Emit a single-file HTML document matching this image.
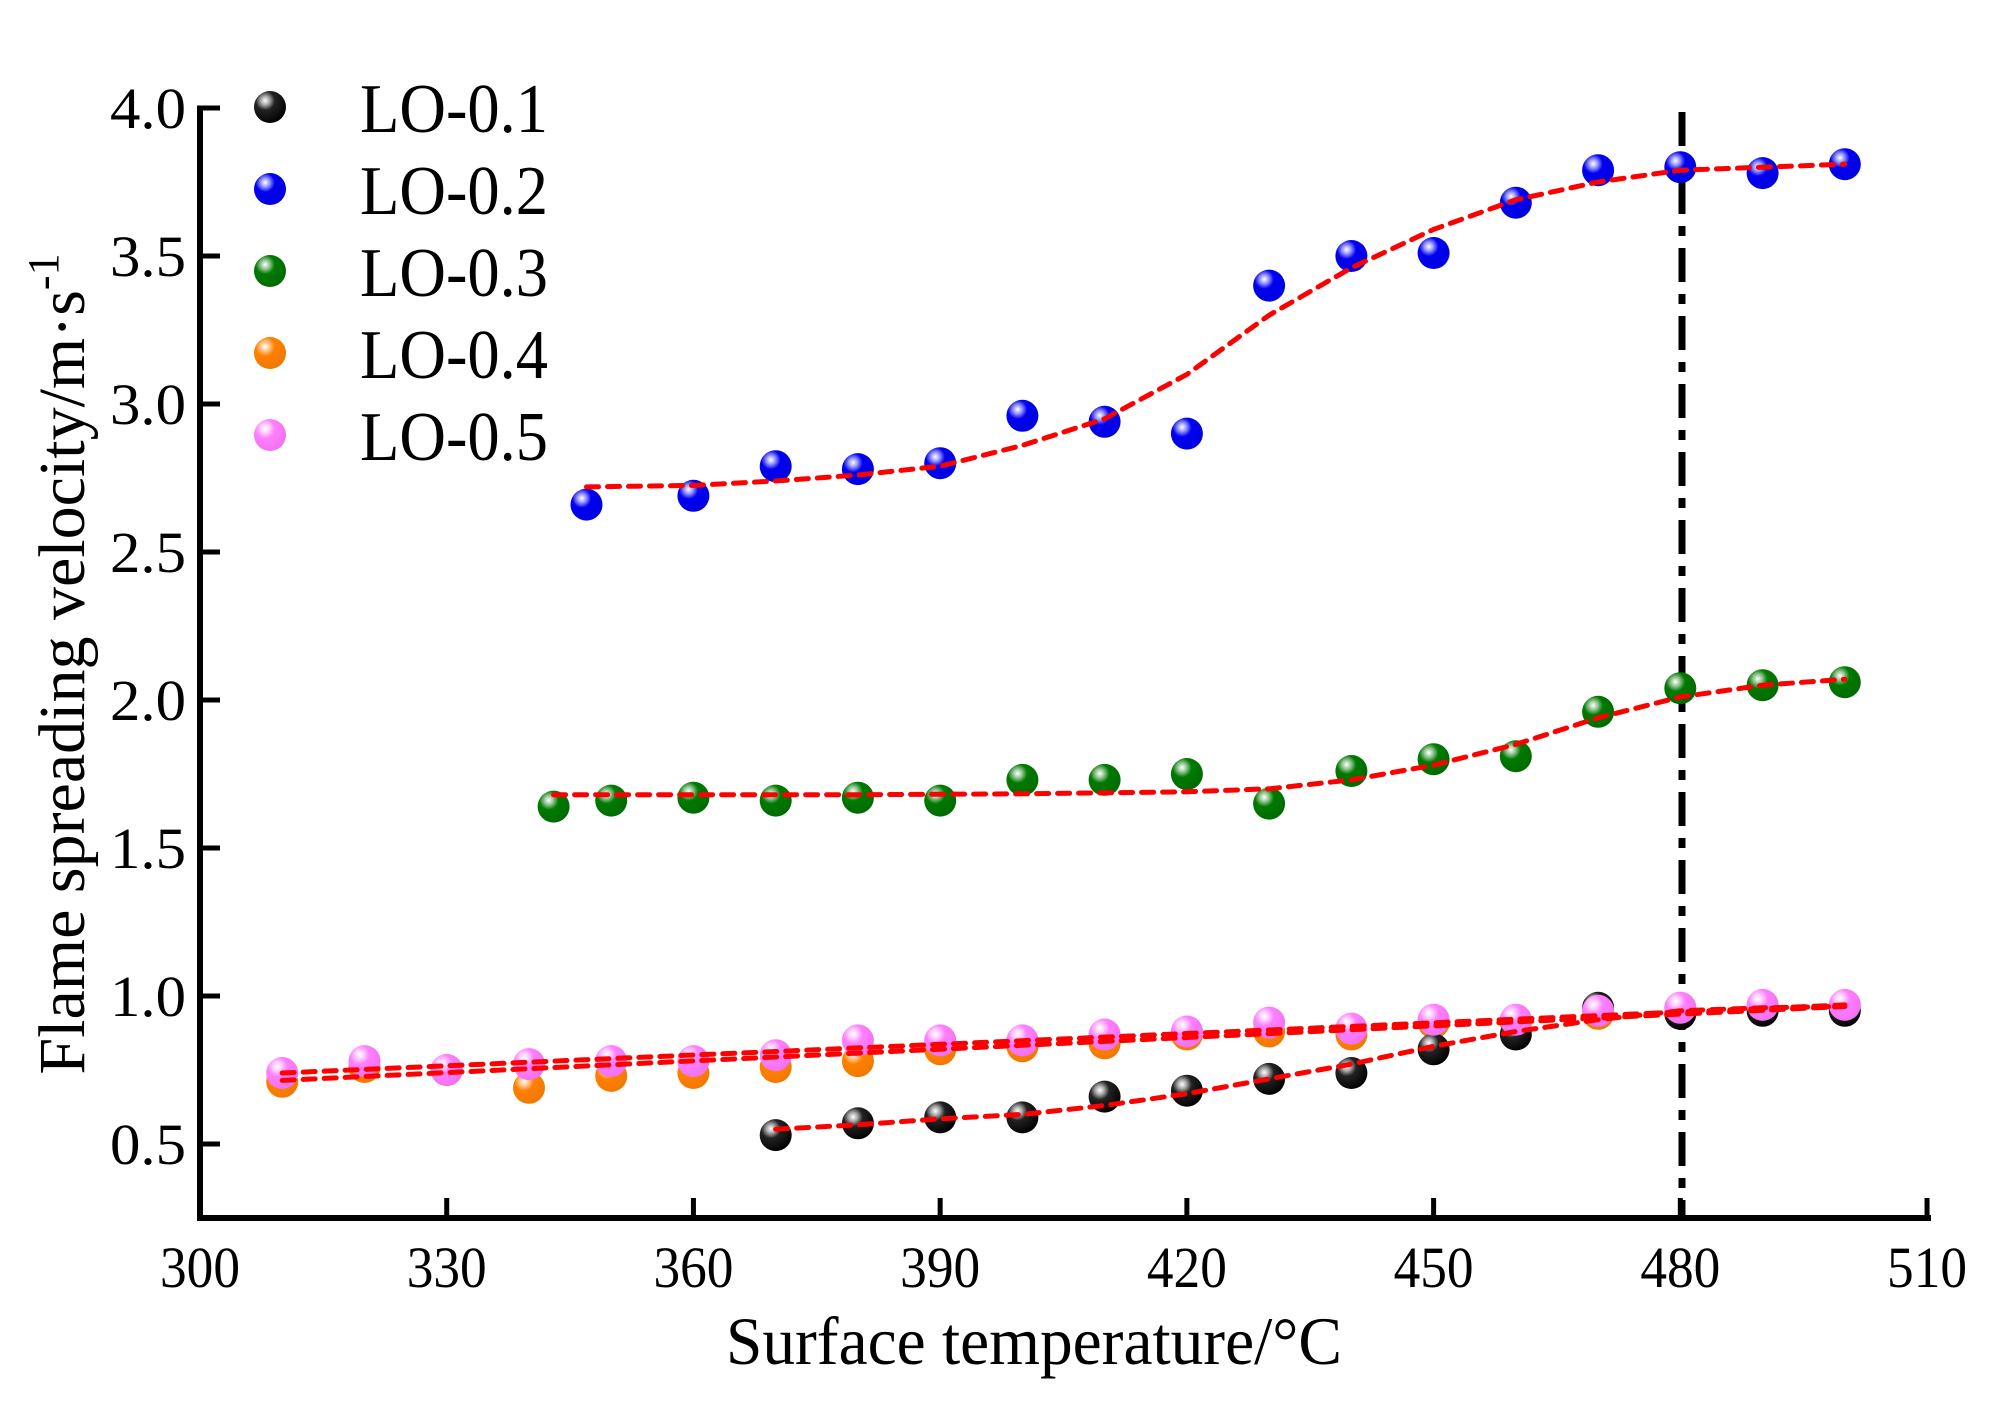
<!DOCTYPE html>
<html><head><meta charset="utf-8"><style>
html,body{margin:0;padding:0;background:#fff;}
svg{display:block;}
text{font-family:"Liberation Serif","DejaVu Serif",serif;fill:#000;}
</style></head><body>
<svg id="s" width="1998" height="1419" viewBox="0 0 1998 1419" xmlns="http://www.w3.org/2000/svg">
<defs>
<radialGradient id="gk" cx="0.35" cy="0.3" r="0.75"><stop offset="0" stop-color="#fff"/><stop offset="0.18" stop-color="#aaa"/><stop offset="0.4" stop-color="#222"/><stop offset="1" stop-color="#000"/></radialGradient>
<radialGradient id="gb" cx="0.35" cy="0.3" r="0.75"><stop offset="0" stop-color="#fff"/><stop offset="0.18" stop-color="#9999ff"/><stop offset="0.4" stop-color="#0000f0"/><stop offset="1" stop-color="#0000e0"/></radialGradient>
<radialGradient id="gg" cx="0.35" cy="0.3" r="0.75"><stop offset="0" stop-color="#fff"/><stop offset="0.18" stop-color="#99c899"/><stop offset="0.4" stop-color="#007a00"/><stop offset="1" stop-color="#006a00"/></radialGradient>
<radialGradient id="go" cx="0.35" cy="0.3" r="0.75"><stop offset="0" stop-color="#fff"/><stop offset="0.18" stop-color="#ffc890"/><stop offset="0.4" stop-color="#ff8000"/><stop offset="1" stop-color="#f07800"/></radialGradient>
<radialGradient id="gp" cx="0.35" cy="0.3" r="0.75"><stop offset="0" stop-color="#fff"/><stop offset="0.18" stop-color="#ffd0ff"/><stop offset="0.4" stop-color="#ff80ff"/><stop offset="1" stop-color="#f070f0"/></radialGradient>
</defs>
<g id="g"></g>
</svg>
<script>
var X=function(t){return 200+(t-300)*8.224;},Y=function(v){return 108+(4-v)*296;};
var h='';
h+='<line x1="200" y1="105.5" x2="200" y2="1220.5" stroke="#000" stroke-width="6"/>';
h+='<line x1="197" y1="1218" x2="1931" y2="1218" stroke="#000" stroke-width="6"/>';
for(var v=0.5;v<=4.001;v+=0.5){var y=Y(v);h+='<line x1="200" y1="'+y+'" x2="220" y2="'+y+'" stroke="#000" stroke-width="5"/>';
h+='<text x="186" y="'+(y+20)+'" font-size="58" text-anchor="end" textLength="76" lengthAdjust="spacingAndGlyphs">'+v.toFixed(1)+'</text>';}
for(var t=300;t<=510;t+=30){var x=X(t);if(t>300)h+='<line x1="'+x+'" y1="1218" x2="'+x+'" y2="1198" stroke="#000" stroke-width="5"/>';
h+='<text x="'+x+'" y="1287" font-size="58" text-anchor="middle" textLength="80" lengthAdjust="spacingAndGlyphs">'+t+'</text>';}
h+='<text x="1034" y="1364" font-size="68" text-anchor="middle" textLength="616" lengthAdjust="spacingAndGlyphs">Surface temperature/°C</text>';
h+='<text transform="translate(84,664) rotate(-90)" font-size="66" text-anchor="middle">Flame spreading velocity/m·s<tspan dy="-26" font-size="44">-1</tspan></text>';
h+='<line x1="1682" y1="112" x2="1682" y2="1216" stroke="#000" stroke-width="7" stroke-dasharray="34 12 10 12"/>';
function fit(pts){var p='';pts.forEach(function(q,i){p+=(i?'L':'M')+X(q[0]).toFixed(1)+' '+Y(q[1]).toFixed(1);});
return '<path d="'+p+'" fill="none" stroke="#ff0000" stroke-width="5" stroke-dasharray="12 9" stroke-linecap="round"/>';}
function lin(a,b,t0,t1){var r=[];for(var t=t0;t<=t1;t+=10)r.push([t,a+(b-a)*(t-t0)/(t1-t0)]);return r;}
var d1=[[370,.53],[380,.57],[390,.59],[400,.59],[410,.66],[420,.68],[430,.72],[440,.74],[450,.82],[460,.87],[470,.96],[480,.94],[490,.95],[500,.95]];
var d2=[[347,2.66],[360,2.69],[370,2.79],[380,2.78],[390,2.80],[400,2.96],[410,2.94],[420,2.90],[430,3.40],[440,3.50],[450,3.51],[460,3.68],[470,3.79],[480,3.80],[490,3.78],[500,3.81]];
var d3=[[343,1.64],[350,1.66],[360,1.67],[370,1.66],[380,1.67],[390,1.66],[400,1.73],[410,1.73],[420,1.75],[430,1.65],[440,1.76],[450,1.80],[460,1.81],[470,1.96],[480,2.04],[490,2.05],[500,2.06]];
var d4=[[310,.71],[320,.76],[330,.75],[340,.69],[350,.73],[360,.74],[370,.76],[380,.78],[390,.82],[400,.83],[410,.84],[420,.87],[430,.88],[440,.87],[450,.91],[460,.91],[470,.94],[480,.96],[490,.96],[500,.96]];
var d5=[[310,.74],[320,.78],[330,.75],[340,.77],[350,.78],[360,.78],[370,.80],[380,.85],[390,.85],[400,.85],[410,.87],[420,.88],[430,.91],[440,.89],[450,.92],[460,.92],[470,.95],[480,.96],[490,.97],[500,.97]];
function pts(d,g){var s='';d.forEach(function(q){s+='<circle cx="'+X(q[0]).toFixed(1)+'" cy="'+Y(q[1]).toFixed(1)+'" r="16" fill="url(#'+g+')"/>';});return s;}
h+=pts(d4,'go');h+=pts(d1,'gk');h+=pts(d5,'gp');h+=pts(d3,'gg');h+=pts(d2,'gb');
h+=fit([[370,.55],[380,.565],[390,.585],[400,.60],[410,.63],[420,.67],[430,.72],[440,.77],[450,.83],[460,.88],[470,.92],[480,.95],[490,.96],[500,.965]]);
h+=fit([[347,2.72],[360,2.725],[370,2.74],[380,2.76],[390,2.79],[400,2.86],[410,2.95],[420,3.10],[430,3.30],[440,3.46],[450,3.59],[460,3.69],[470,3.75],[480,3.79],[490,3.80],[500,3.81]]);
h+=fit([[343,1.68],[360,1.68],[380,1.68],[400,1.683],[420,1.69],[430,1.70],[440,1.73],[450,1.78],[460,1.85],[470,1.94],[480,2.01],[490,2.05],[500,2.07]]);
h+=fit(lin(.715,.965,310,500));
h+=fit(lin(.74,.97,310,500));
var L=[['LO-0.1','gk'],['LO-0.2','gb'],['LO-0.3','gg'],['LO-0.4','go'],['LO-0.5','gp']];
L.forEach(function(l,i){var y=107+i*82;h+='<circle cx="270" cy="'+y+'" r="16" fill="url(#'+l[1]+')"/>';
h+='<text x="360" y="'+(y+25)+'" font-size="70" textLength="188" lengthAdjust="spacingAndGlyphs">'+l[0]+'</text>';});
document.getElementById('g').innerHTML=h;
</script>
</body></html>
